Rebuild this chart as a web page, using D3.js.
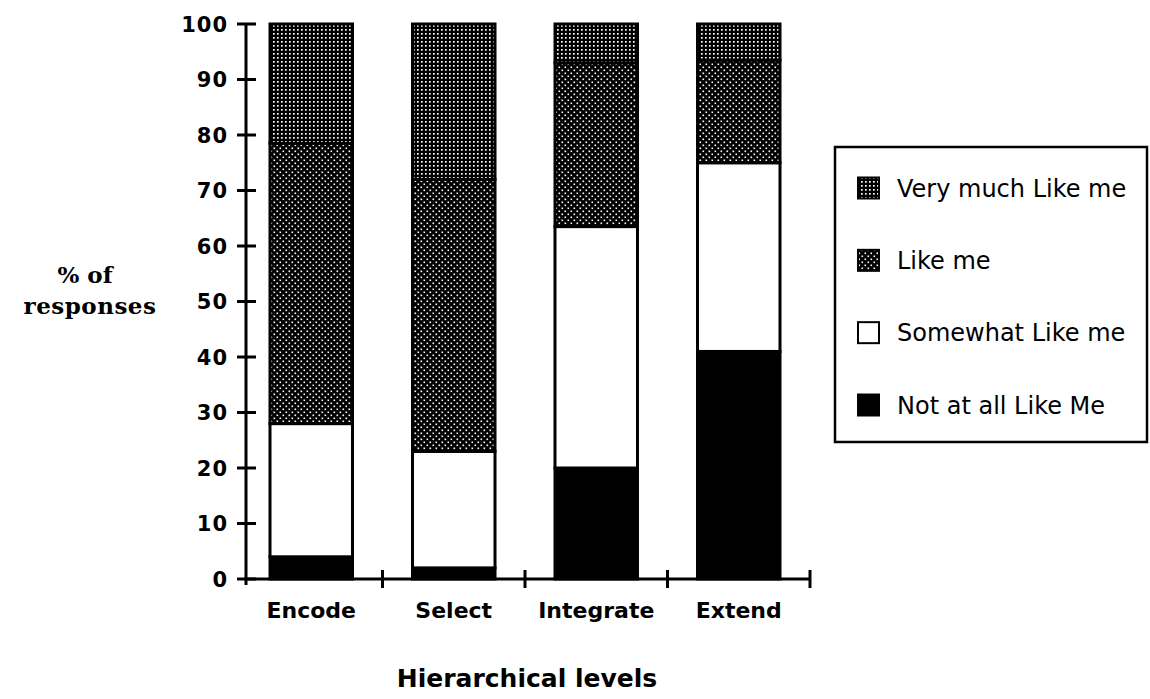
<!DOCTYPE html>
<html><head><meta charset="utf-8">
<script src="https://cdn.jsdelivr.net/npm/d3@7/dist/d3.min.js"></script>
<style>body{margin:0;background:#fff}svg{display:block}</style>
</head><body>
<svg id="c" width="1150" height="699"></svg>
<script>
const categories = ["Encode", "Select", "Integrate", "Extend"];
const seriesNames = ["Not at all Like Me", "Somewhat Like me", "Like me", "Very much Like me"];
const notAtAll   = [4, 2, 20, 41];
const somewhat   = [24, 21, 43.5, 34];
const likeMe     = [50.5, 49, 29.5, 18.5];
const veryMuch   = [21.5, 28, 7, 6.5];
const yTicks = [0,10,20,30,40,50,60,70,80,90,100];
const legendOrder = ["Very much Like me", "Like me", "Somewhat Like me", "Not at all Like Me"];

const svg = d3.select("#c");
const defs = svg.append("defs");
const p1 = defs.append("pattern").attr("id","pVery").attr("width",4).attr("height",4).attr("patternUnits","userSpaceOnUse");
p1.append("rect").attr("width",4).attr("height",4).attr("fill","#000");
p1.append("rect").attr("x",1).attr("y",1).attr("width",1.7).attr("height",1.7).attr("fill","#fff");
const p2 = defs.append("pattern").attr("id","pLike").attr("width",6).attr("height",6).attr("patternUnits","userSpaceOnUse");
p2.append("rect").attr("width",6).attr("height",6).attr("fill","#000");
p2.append("rect").attr("x",0.5).attr("y",0.5).attr("width",1.6).attr("height",1.6).attr("fill","#fff");
p2.append("rect").attr("x",3.5).attr("y",3.5).attr("width",1.6).attr("height",1.6).attr("fill","#fff");

const fills = {
  "Not at all Like Me": "#000",
  "Somewhat Like me": "#fff",
  "Like me": "url(#pLike)",
  "Very much Like me": "url(#pVery)"
};
const valuesBy = {
  "Not at all Like Me": notAtAll,
  "Somewhat Like me": somewhat,
  "Like me": likeMe,
  "Very much Like me": veryMuch
};

const x = d3.scaleBand().domain(categories).range([240, 810]).paddingInner(0.4).paddingOuter(0.2);
const y = d3.scaleLinear().domain([0,100]).range([579, 24]);

const rows = categories.map((c,i)=>{ const r={cat:c}; seriesNames.forEach(s=>r[s]=valuesBy[s][i]); return r; });
const stack = d3.stack().keys(seriesNames)(rows);

const font = "'DejaVu Sans', sans-serif";

stack.forEach(layer=>{
  svg.append("g").selectAll("rect").data(layer).join("rect")
    .attr("x", d=>x(d.data.cat)+1.5)
    .attr("width", x.bandwidth()-3)
    .attr("y", d=>y(Math.min(d[1],100)))
    .attr("height", d=>y(d[0])-y(Math.min(d[1],100)))
    .attr("fill", fills[layer.key])
    .attr("stroke","#000").attr("stroke-width",3);
});

// y axis
const ya = svg.append("g");
ya.append("line").attr("x1",246).attr("x2",246).attr("y1",y(100)).attr("y2",y(0)+6).attr("stroke","#000").attr("stroke-width",3);
ya.selectAll("line.t").data(yTicks).join("line").attr("class","t")
  .attr("x1",237).attr("x2",256).attr("y1",d=>y(d)).attr("y2",d=>y(d)).attr("stroke","#000").attr("stroke-width",3);
ya.selectAll("text").data(yTicks).join("text")
  .attr("x",228).attr("y",d=>y(d)).attr("dy","0.36em").attr("text-anchor","end")
  .attr("font-family",font).attr("font-weight","bold").attr("font-size",21).attr("letter-spacing",1)
  .text(d=>d);

// x axis
const step = x.step();
const xb = [246].concat(categories.map(c=>x(c)+x.bandwidth()+step*x.paddingInner()/2));
svg.append("line").attr("x1",246).attr("x2",xb[xb.length-1]).attr("y1",y(0)).attr("y2",y(0)).attr("stroke","#000").attr("stroke-width",3);
svg.append("g").selectAll("line").data(xb.slice(1)).join("line")
  .attr("x1",d=>d).attr("x2",d=>d).attr("y1",y(0)-9).attr("y2",y(0)+9).attr("stroke","#000").attr("stroke-width",3);
svg.append("g").selectAll("text").data(categories).join("text")
  .attr("x",d=>x(d)+x.bandwidth()/2).attr("y",618).attr("text-anchor","middle")
  .attr("font-family",font).attr("font-weight","bold").attr("font-size",22)
  .text(d=>d);

// axis titles
svg.append("text").attr("x",527).attr("y",687).attr("text-anchor","middle")
  .attr("font-family",font).attr("font-weight","bold").attr("font-size",25).text("Hierarchical levels");
svg.append("text").attr("x",85).attr("y",283).attr("text-anchor","middle")
  .attr("font-family","'DejaVu Serif', serif").attr("font-weight","bold").attr("font-size",23).text("% of");
svg.append("text").attr("x",90).attr("y",314).attr("text-anchor","middle")
  .attr("font-family","'DejaVu Serif', serif").attr("font-weight","bold").attr("font-size",23).attr("letter-spacing",0.5).text("responses");

// legend
const lg = svg.append("g");
lg.append("rect").attr("x",835).attr("y",147).attr("width",312).attr("height",295)
  .attr("fill","#fff").attr("stroke","#000").attr("stroke-width",2.5);
const ly = d3.scalePoint().domain(legendOrder).range([188, 405]);
lg.selectAll("rect.s").data(legendOrder).join("rect").attr("class","s")
  .attr("x",858).attr("y",d=>ly(d)-10.5).attr("width",21).attr("height",21)
  .attr("fill",d=>fills[d]).attr("stroke","#000").attr("stroke-width",2);
lg.selectAll("text").data(legendOrder).join("text")
  .attr("x",897).attr("y",d=>ly(d)).attr("dy","0.36em")
  .attr("font-family",font).attr("font-size",24)
  .text(d=>d);
</script>
</body></html>
